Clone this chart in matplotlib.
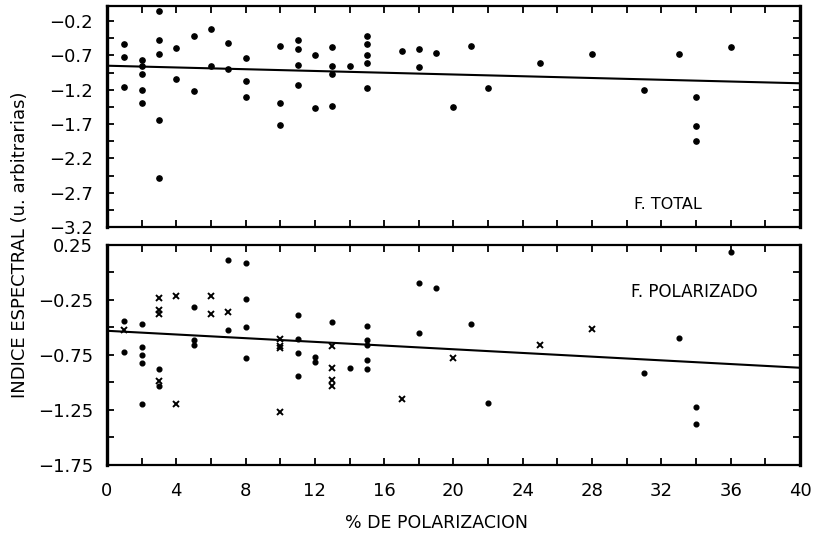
import numpy as np
import matplotlib
matplotlib.use("Agg")
import matplotlib.pyplot as plt
from matplotlib.ticker import FixedLocator, MultipleLocator, FuncFormatter

plt.rcParams['font.family'] = ['DejaVu Sans']
plt.rcParams['axes.unicode_minus'] = True

# ---- F. TOTAL: polarization (%) vs spectral index ----
total_pol = [1, 1, 1,
             2, 2, 2, 2, 2,
             3, 3, 3, 3, 3,
             4, 4,
             5, 5,
             6, 6,
             7, 7,
             8, 8, 8,
             10, 10, 10,
             11, 11, 11, 11,
             12, 12,
             13, 13, 13, 13,
             14,
             15, 15, 15, 15, 15,
             17,
             18, 18,
             19, 20, 21, 22, 25, 28, 31, 33,
             34, 34, 34,
             36]
total_idx = [-0.53, -0.725, -1.155,
             -0.77, -0.86, -0.97, -1.20, -1.40,
             -0.06, -0.47, -0.675, -1.64, -2.49,
             -0.59, -1.04,
             -0.42, -1.225,
             -0.32, -0.85,
             -0.52, -0.905,
             -0.74, -1.08, -1.30,
             -0.57, -1.39, -1.71,
             -0.48, -0.60, -0.84, -1.13,
             -0.69, -1.47,
             -0.58, -0.86, -0.97, -1.43,
             -0.86,
             -0.41, -0.53, -0.70, -0.81, -1.18,
             -0.64,
             -0.61, -0.87,
             -0.66, -1.45, -0.56, -1.175, -0.81, -0.675, -1.20, -0.675,
             -1.30, -1.73, -1.95,
             -0.58]
total_fit = (-0.85, -0.0064)   # intercept, slope

# ---- F. POLARIZADO: filled points ----
pol_dot_x = [1, 1,
             2, 2, 2, 2, 2,
             3, 3,
             5, 5, 5,
             7, 7,
             8, 8, 8, 8,
             11, 11, 11, 11,
             12, 12,
             13, 14,
             15, 15, 15, 15, 15,
             18, 18, 19, 21, 22, 31, 33,
             34, 34, 36]
pol_dot_y = [-0.44, -0.72,
             -0.47, -0.68, -0.75, -0.82, -1.20,
             -0.88, -1.03,
             -0.31, -0.61, -0.66,
             0.11, -0.52,
             0.085, -0.24, -0.50, -0.78,
             -0.39, -0.605, -0.73, -0.94,
             -0.77, -0.81,
             -0.45, -0.87,
             -0.485, -0.61, -0.66, -0.80, -0.875,
             -0.10, -0.55, -0.14, -0.47, -1.19, -0.915, -0.60,
             -1.22, -1.38, 0.19]

# ---- F. POLARIZADO: cross points ----
pol_x_x = [1, 3, 3, 3, 3, 4, 4, 6, 6, 7,
           10, 10, 10, 10,
           13, 13, 13, 13,
           17, 20, 25, 28]
pol_x_y = [-0.52, -0.23, -0.34, -0.375, -0.99, -0.21, -1.20, -0.21, -0.375, -0.36,
           -0.605, -0.67, -0.69, -1.265,
           -0.67, -0.87, -0.98, -1.03,
           -1.15, -0.775, -0.655, -0.51]
pol_fit = (-0.53, -0.0084)

x_ticks = list(range(0, 41, 4))

fig = plt.figure(figsize=(8.16, 5.45), dpi=100)
ax1 = fig.add_axes([0.1311, 0.5835, 0.8493, 0.4055])
ax2 = fig.add_axes([0.1311, 0.1468, 0.8493, 0.4037])


def style(ax):
    for side in ('top', 'bottom'):
        ax.spines[side].set_linewidth(1.6)
    for side in ('left', 'right'):
        ax.spines[side].set_linewidth(2.4)
    ax.tick_params(which='both', direction='in', top=True, right=True,
                   length=5, width=1.3, labelsize=13, pad=10)
    ax.xaxis.set_major_locator(FixedLocator(x_ticks))
    ax.xaxis.set_minor_locator(MultipleLocator(2))
    ax.set_xlim(0, 40)


def fmt(decimals):
    return FuncFormatter(lambda v, p: f"{v:.{decimals}f}".replace('-', '\u2212'))


xx = np.array([0, 40])

# upper panel
style(ax1)
ax1.plot(total_pol, total_idx, 'o', color='black', ms=3.8)
ax1.plot(xx, total_fit[0] + total_fit[1] * xx, color='black', lw=1.5)
ax1.set_ylim(-3.2, 0.02)
ax1.yaxis.set_major_locator(FixedLocator(np.arange(-3.2, -0.1, 0.5)))
ax1.yaxis.set_minor_locator(FixedLocator(np.arange(-2.95, -0.1, 0.5)))
ax1.yaxis.set_major_formatter(fmt(1))
ax1.tick_params(axis='x', labelbottom=False)
ax1.text(0.81, 0.1, 'F. TOTAL', transform=ax1.transAxes, ha='center',
         va='center', fontsize=11.5)

# lower panel
style(ax2)
ax2.plot(pol_dot_x, pol_dot_y, 'o', color='black', ms=3.4)
ax2.plot(pol_x_x, pol_x_y, 'x', color='black', ms=4.5, mew=1.4)
ax2.plot(xx, pol_fit[0] + pol_fit[1] * xx, color='black', lw=1.5)
ax2.set_ylim(-1.75, 0.25)
ax2.yaxis.set_major_locator(FixedLocator([0.25, -0.25, -0.75, -1.25, -1.75]))
ax2.yaxis.set_minor_locator(FixedLocator([0.0, -0.5, -1.0, -1.5]))
ax2.yaxis.set_major_formatter(fmt(2))
ax2.tick_params(axis='x', pad=12)
ax2.text(0.848, 0.786, 'F. POLARIZADO', transform=ax2.transAxes, ha='center',
         va='center', fontsize=12)
ax2.set_xlabel('% DE POLARIZACION', fontsize=12.5)
ax2.xaxis.set_label_coords(0.475, -0.225)

fig.text(0.024, 1 - 245 / 545, 'INDICE ESPECTRAL (u. arbitrarias)',
         rotation=90, ha='center', va='center', fontsize=13)

fig.savefig('out.png', dpi=100)
